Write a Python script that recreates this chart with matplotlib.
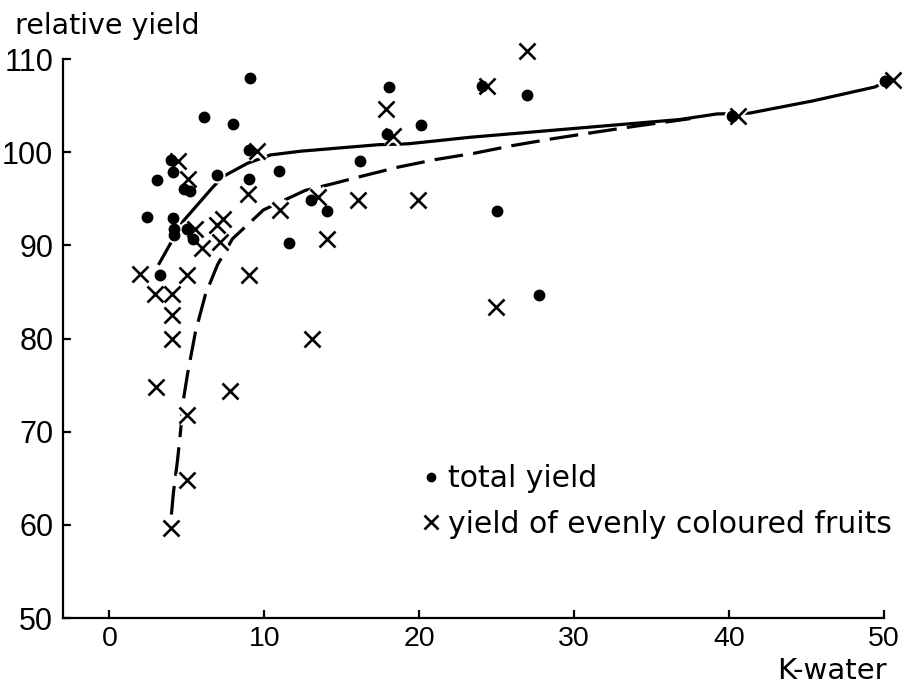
import matplotlib
matplotlib.use("Agg")
import matplotlib.pyplot as plt
from matplotlib import font_manager

# K in irrigation water vs. relative yield
total_k = [2.4, 3.1, 3.23, 4.0, 4.13, 4.13, 4.19, 4.19, 4.84, 5.23, 5.03, 5.42,
           6.13, 8.0, 6.97, 9.03, 9.03, 9.1, 10.97, 11.6, 13.03, 14.06, 16.19,
           18.06, 20.13, 17.94, 24.06, 26.97, 25.03, 27.74, 40.19, 50.06]
total_yield = [93.0, 97.0, 86.8, 99.2, 97.9, 92.9, 91.7, 91.1, 96.1, 95.8, 91.8, 90.7,
               103.8, 103.0, 97.6, 100.2, 97.1, 108.0, 98.0, 90.2, 94.9, 93.7, 99.1,
               107.0, 102.9, 101.9, 107.1, 106.1, 93.7, 84.7, 103.9, 107.6]

even_k = [4.45, 5.1, 9.55, 8.97, 11.03, 5.55, 6.97, 7.35, 7.16, 6.0, 2.0, 5.03,
          9.03, 2.97, 4.06, 4.06, 4.06, 3.03, 7.8, 5.03, 5.03, 3.94, 17.87, 18.32,
          13.48, 16.06, 19.94, 14.06, 13.1, 24.39, 24.97, 26.97, 40.58, 50.58]
even_yield = [99.0, 97.1, 100.1, 95.5, 93.8, 91.8, 92.2, 92.8, 90.4, 89.7, 86.9, 86.8,
              86.8, 84.8, 84.8, 82.5, 79.9, 74.8, 74.4, 71.8, 64.8, 59.7, 104.6, 101.7,
              95.2, 94.9, 94.9, 90.7, 79.9, 107.1, 83.4, 110.9, 103.9, 107.7]

# hand-fitted trend curves
total_curve_k = [3.16, 3.94, 4.71, 6.65, 7.35, 8.9, 10.39, 12.32, 17.35, 19.29,
                 23.29, 30.39, 36.8, 39.2, 41.35, 45.4, 49.42, 49.9]
total_curve_y = [87.9, 90.2, 92.5, 96.2, 97.4, 98.8, 99.7, 100.1, 100.8, 100.9,
                 101.6, 102.6, 103.5, 104.1, 104.2, 105.5, 107.0, 107.4]
even_curve_k = [4.0, 4.13, 4.39, 4.58, 4.77, 5.03, 5.55, 6.19, 6.97, 7.94, 9.94,
                11.48, 12.65, 14.39, 16.0, 18.65, 21.03, 23.6, 26.0, 28.45, 30.39,
                34.0, 37.5]
even_curve_y = [61.1, 63.5, 66.9, 69.9, 73.4, 76.1, 80.7, 84.7, 87.9, 90.7, 93.8,
                95.0, 95.9, 96.6, 97.3, 98.4, 99.2, 99.9, 100.7, 101.4, 101.9,
                102.8, 103.6]

x_ticks = [0, 10, 20, 30, 40, 50]
y_ticks = [50, 60, 70, 80, 90, 100, 110]

installed = {f.name for f in font_manager.fontManager.ttflist}
num_font = "Liberation Sans" if "Liberation Sans" in installed else "DejaVu Sans"
txt_font = "DejaVu Sans"

fig = plt.figure(figsize=(9.02, 6.85), dpi=100)
ax = fig.add_axes([63 / 902, 1 - 618 / 685, (884 - 63) / 902, (618 - 59) / 685])

ax.plot(total_curve_k, total_curve_y, color="black", lw=2.3, solid_capstyle="butt", zorder=2)
ax.plot(even_curve_k, even_curve_y, color="black", lw=2.3, dashes=(9, 3.2), zorder=2)

# white halos break the curves around the markers
ax.plot(total_k, total_yield, ls="none", marker="o", ms=7.5, mfc="white", mec="white",
        mew=4, zorder=3, clip_on=False)
ax.plot(even_k, even_yield, ls="none", marker="x", ms=12, mec="white", mew=5.5,
        zorder=3, clip_on=False)
ax.plot(total_k, total_yield, ls="none", marker="o", ms=7.5, color="black",
        zorder=4, clip_on=False, label="total yield")
ax.plot(even_k, even_yield, ls="none", marker="x", ms=12, mec="black", mew=1.9,
        zorder=4, clip_on=False, label="yield of evenly coloured fruits")

ax.set_xlim(-3, 50)
ax.set_ylim(50, 110)
ax.set_xticks(x_ticks)
ax.set_yticks(y_ticks)
ax.set_xticklabels([str(v) for v in x_ticks], fontfamily=num_font, fontsize=20.5)
ax.set_yticklabels([str(v) for v in y_ticks], fontfamily=num_font, fontsize=22)
ax.tick_params(axis="both", direction="in", length=6, width=1.6)
ax.tick_params(axis="y", pad=7)
ax.tick_params(axis="x", pad=6)
for side in ("top", "right"):
    ax.spines[side].set_visible(False)
for side in ("left", "bottom"):
    ax.spines[side].set_linewidth(1.6)

leg = ax.legend(loc="upper left", bbox_to_anchor=(0.438, 0.275), frameon=False,
                borderpad=0, borderaxespad=0, handlelength=0.55, handletextpad=0.3,
                labelspacing=0.55, markerscale=0.8,
                prop={"family": txt_font, "size": 21.5})

fig.text(15 / 902, 1 - 12 / 685, "relative yield", family=txt_font, fontsize=20.5,
         ha="left", va="top")
fig.text(887 / 902, 6 / 685, "K-water", family=txt_font, fontsize=21,
         ha="right", va="baseline")

fig.savefig("out.png", dpi=100)
